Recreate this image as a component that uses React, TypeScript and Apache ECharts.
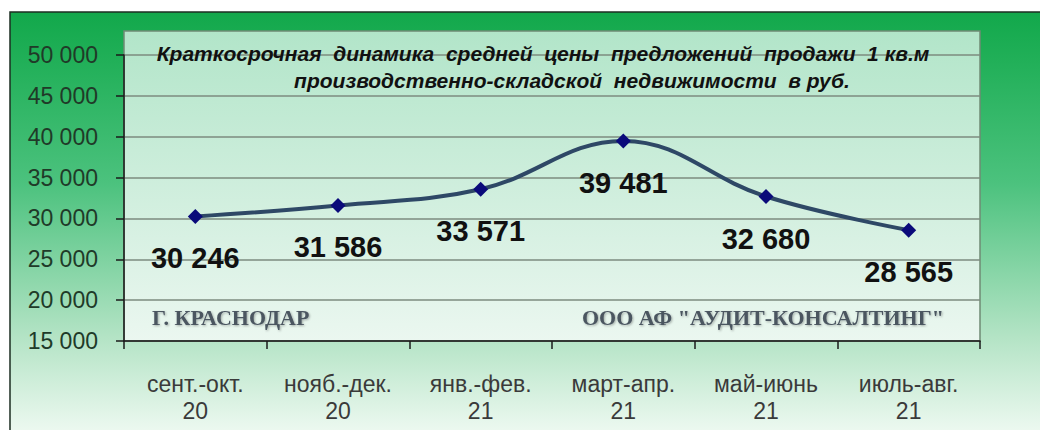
import React, { useEffect, useRef } from "react";
import * as echarts from "echarts";

const categories = ["сент.-окт.\n20", "нояб.-дек.\n20", "янв.-фев.\n21", "март-апр.\n21", "май-июнь\n21", "июль-авг.\n21"];
const prices = [30246, 31586, 33571, 39481, 32680, 28565];
const titleLines = [
  "Краткосрочная  динамика  средней  цены  предложений  продажи  1 кв.м",
  "производственно-складской  недвижимости  в руб.",
];
const cityText = "Г. КРАСНОДАР";
const companyText = "ООО АФ \"АУДИТ-КОНСАЛТИНГ\"";
const yMin = 15000;
const yMax = 50000;
const yStep = 5000;

const fmt = (v: number) => String(Math.round(v)).replace(/\B(?=(\d{3})+(?!\d))/g, " ");

export default function App() {
  const ref = useRef<HTMLDivElement>(null);
  useEffect(() => {
    if (!ref.current) return;
    const chart = echarts.init(ref.current, undefined, { renderer: "svg" });
    const shadowText = (text: string, x: number) => ({
      type: "text",
      z: 10,
      x,
      y: 317,
      style: {
        text,
        fill: "#4b5661",
        font: "bold 22px 'Liberation Serif', 'Times New Roman', serif",
        align: "left",
        verticalAlign: "middle",
        textShadowColor: "rgba(0,0,0,0.3)",
        textShadowBlur: 2,
        textShadowOffsetX: 1,
        textShadowOffsetY: 1,
      },
    });
    chart.setOption({
      animation: false,
      backgroundColor: "#ffffff",
      grid: { left: 124, right: 60, top: 55, bottom: 89, containLabel: false },
      graphic: [
        {
          type: "rect",
          z: -20,
          shape: { x: 10, y: 12, width: 1040, height: 430 },
          style: {
            fill: new echarts.graphic.LinearGradient(0, 0, 0, 1, [
              { offset: 0, color: "#12a84b" },
              { offset: 0.12, color: "#22b059" },
              { offset: 0.4, color: "#4cc27e" },
              { offset: 0.75, color: "#b2e3c4" },
              { offset: 1, color: "#f3fbf5" },
            ]),
            stroke: "#1c2e22",
            lineWidth: 1.5,
          },
        },
        {
          type: "rect",
          z: -10,
          shape: { x: 124, y: 31, width: 856, height: 310 },
          style: {
            fill: new echarts.graphic.LinearGradient(0, 0, 0, 1, [
              { offset: 0, color: "#b2e5c9" },
              { offset: 1, color: "#ebf7f0" },
            ]),
            stroke: "#6f8a74",
            lineWidth: 1.5,
          },
        },
        {
          type: "text",
          z: 10,
          x: 543,
          y: 53,
          style: {
            text: titleLines[0],
            fill: "#111",
            font: "italic bold 21px 'Liberation Sans', Arial, sans-serif",
            align: "center",
            verticalAlign: "middle",
          },
        },
        {
          type: "text",
          z: 10,
          x: 572,
          y: 80,
          style: {
            text: titleLines[1],
            fill: "#111",
            font: "italic bold 21px 'Liberation Sans', Arial, sans-serif",
            align: "center",
            verticalAlign: "middle",
          },
        },
        shadowText(cityText, 152),
        shadowText(companyText, 582),
      ],
      xAxis: {
        type: "category",
        data: categories,
        boundaryGap: true,
        axisLine: { show: true, lineStyle: { color: "#1a1a1a", width: 1.5 } },
        axisTick: { show: true, length: 8, inside: false, lineStyle: { color: "#1a1a1a", width: 1.5 } },
        axisLabel: {
          margin: 29,
          fontSize: 23,
          lineHeight: 27,
          color: "#3a3a3a",
          fontFamily: "'Liberation Sans', Arial, sans-serif",
        },
        splitLine: { show: false },
      },
      yAxis: {
        type: "value",
        min: yMin,
        max: yMax,
        interval: yStep,
        axisLine: { show: true, lineStyle: { color: "#1a1a1a", width: 1.5 } },
        axisTick: { show: true, length: 8, inside: false, lineStyle: { color: "#1a1a1a", width: 1.5 } },
        axisLabel: {
          margin: 26,
          fontSize: 23,
          color: "#203a28",
          fontFamily: "'Liberation Sans', Arial, sans-serif",
          formatter: (v: number) => fmt(v),
        },
        splitLine: { show: true, lineStyle: { color: "#7d8b7f", width: 1.5 } },
      },
      series: [
        {
          type: "line",
          data: prices,
          smooth: 0.4,
          symbol: "diamond",
          symbolSize: 15,
          itemStyle: { color: "#0a0a7a" },
          lineStyle: { color: "#2e4866", width: 4 },
          z: 5,
          label: {
            show: true,
            position: "bottom",
            distance: 20,
            color: "#111",
            fontSize: 29,
            fontWeight: "bold",
            fontFamily: "'Liberation Sans', Arial, sans-serif",
            formatter: (p: any) => fmt(p.value),
          },
        },
      ],
    });
    return () => chart.dispose();
  }, []);
  return <div ref={ref} style={{ position: "fixed", left: 0, top: 0, width: 1040, height: 430 }} />;
}
